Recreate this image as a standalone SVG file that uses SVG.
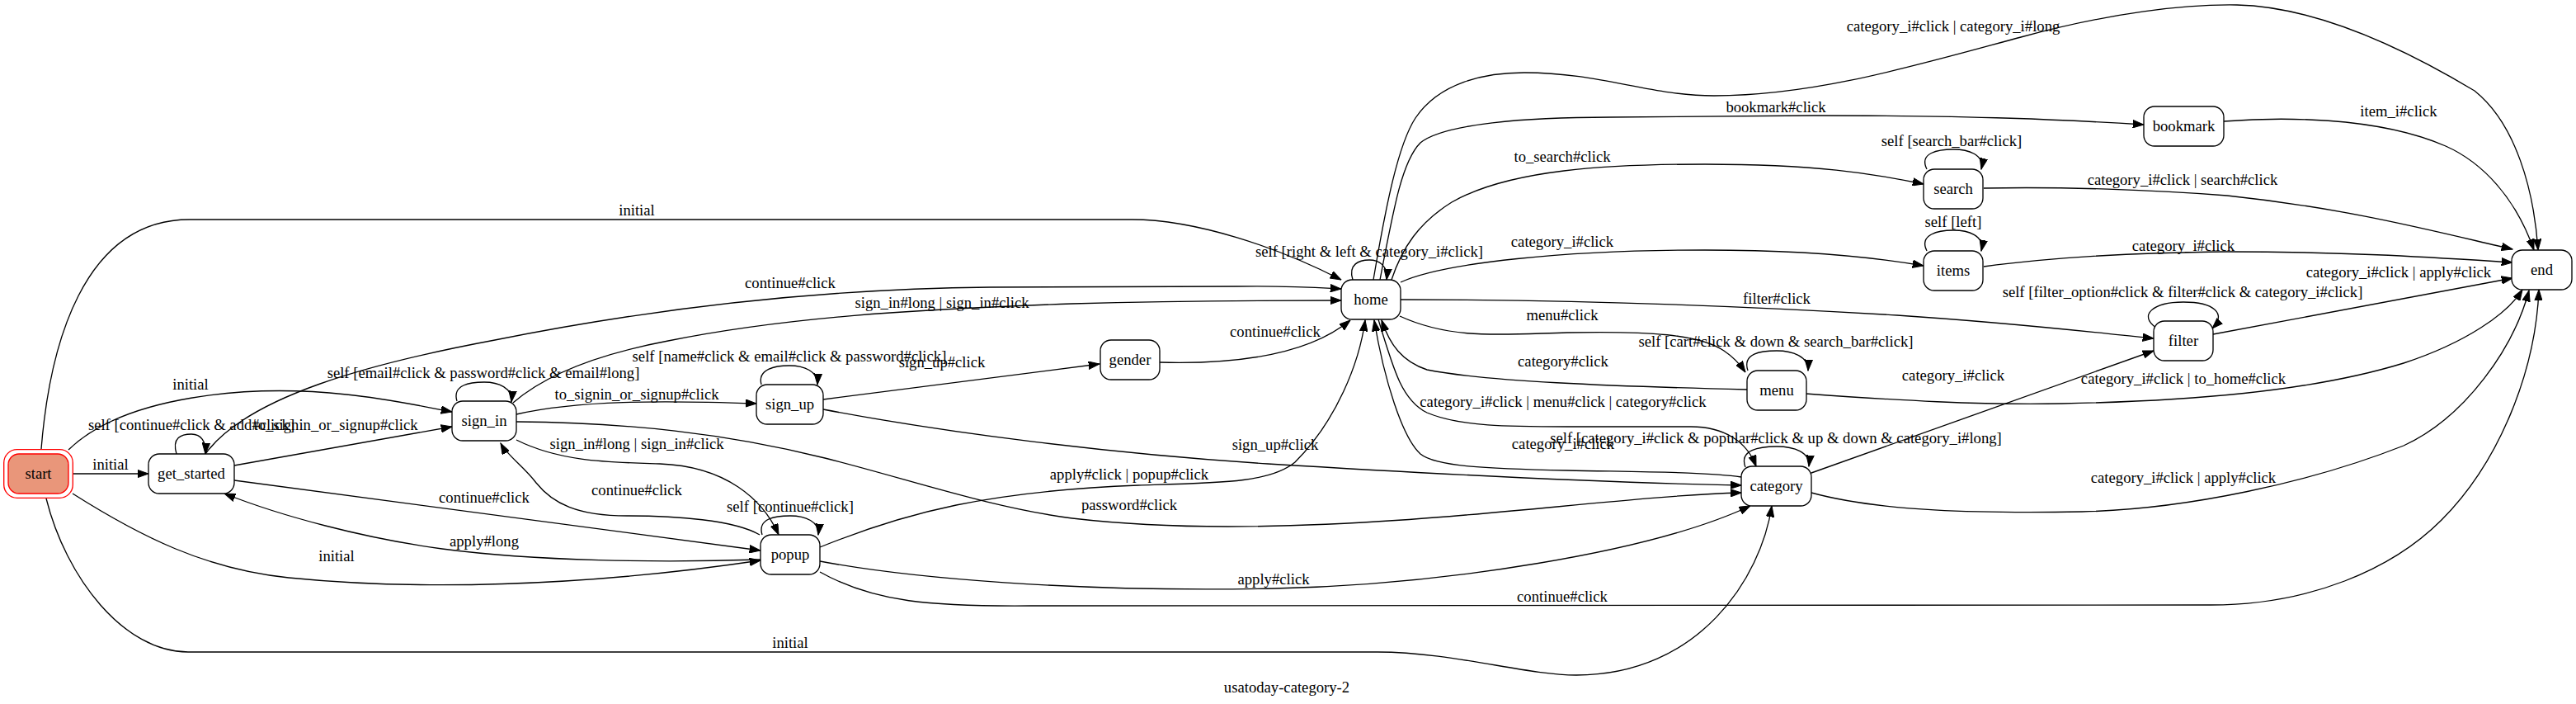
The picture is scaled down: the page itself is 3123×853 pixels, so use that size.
<svg xmlns="http://www.w3.org/2000/svg" width="3123" height="853" viewBox="0 0 3123 853">
<style>
text{font-family:"Liberation Serif","Times New Roman",serif;font-size:18.67px;fill:#000;text-anchor:middle}
.n{fill:#fff;stroke:#000;stroke-width:1.33}
.e{fill:none;stroke:#000;stroke-width:1.33;marker-end:url(#ah)}
</style>
<defs>
<marker id="ah" markerUnits="userSpaceOnUse" markerWidth="14" markerHeight="10" viewBox="0 0 14 10" refX="13.3" refY="5" orient="auto">
<path d="M0,0.3 L13.3,5 L0,9.7 z" fill="#000" stroke="#000" stroke-width="1"/>
</marker>
</defs>
<rect width="3123" height="853" fill="#fff"/>
<g id="connectors">
<g id="e1"><path class="e" d="M88,574 L180,574"/><text x="134" y="569">initial</text></g>
<g id="e2"><path class="e" d="M83,545 C150,480 300,465 420,478 C470,483 510,492 548,499"/><text x="231" y="472">initial</text></g>
<g id="e3"><path class="e" d="M50,544 C60,420 100,266 230,266 L1372,266 C1450,266 1550,300 1626,339"/><text x="772" y="261">initial</text></g>
<g id="e4"><path class="e" d="M88,598 C170,650 250,690 350,700 C500,715 700,712 922,679"/><text x="408" y="680">initial</text></g>
<g id="e5"><path class="e" d="M56,604 C80,700 150,790 228,790 L1670,790 C1760,790 1850,818 1911,818 C2060,818 2135,700 2148,613"/><text x="958" y="785">initial</text></g>
<g id="e6"><path class="e" d="M214,550 C208,530 220,526 232,526 C244,526 250,535 249,550"/><text x="232" y="521">self [continue#click &amp; add#click]</text></g>
<g id="e7"><path class="e" d="M284,564 L548,517"/><text x="407" y="521">to_signin_or_signup#click</text></g>
<g id="e8"><path class="e" d="M249,550 C300,480 450,440 600,412 C800,372 1000,350 1200,348 L1500,347 C1560,346 1590,348 1626,350"/><text x="958" y="349">continue#click</text></g>
<g id="e9"><path class="e" d="M284,582 L922,667"/><text x="587" y="609">continue#click</text></g>
<g id="e10"><path class="e" d="M922,678 C800,682 650,680 536,665 C440,652 340,625 272,598"/><text x="587" y="662">apply#long</text></g>
<g id="e11"><path class="e" d="M554,486 C548,466 570,463 587,463 C604,463 622,470 620,487"/><text x="586" y="458">self [email#click &amp; password#click &amp; email#long]</text></g>
<g id="e12"><path class="e" d="M626,502 C700,485 800,485 917,489"/><text x="772" y="484">to_signin_or_signup#click</text></g>
<g id="e13"><path class="e" d="M622,488 C660,455 720,430 810,413 C950,385 1100,375 1300,368 C1450,364 1550,364 1626,364"/><text x="1142" y="373">sign_in#long | sign_in#click</text></g>
<g id="e14"><path class="e" d="M626,533 C680,560 740,560 800,562 C880,565 925,605 944,648"/><text x="772" y="544">sign_in#long | sign_in#click</text></g>
<g id="e15"><path class="e" d="M921,648 C890,630 820,625 760,625 C700,625 670,610 650,585 C635,565 615,552 607,537"/><text x="772" y="600">continue#click</text></g>
<g id="e16"><path class="e" d="M626,511 C760,512 880,525 1000,555 C1100,580 1200,615 1300,628 C1420,642 1550,640 1700,630 C1850,620 2000,600 2111,597"/><text x="1369" y="618">password#click</text></g>
<g id="e17"><path class="e" d="M923,466 C918,447 940,443 957,443 C975,443 992,450 991,466"/><text x="957" y="438">self [name#click &amp; email#click &amp; password#click]</text></g>
<g id="e18"><path class="e" d="M998,484 L1333,441"/><text x="1142" y="445">sign_up#click</text></g>
<g id="e19"><path class="e" d="M998,496 C1150,525 1350,550 1537,562 C1750,575 1950,585 2111,588"/><text x="1546" y="545">sign_up#click</text></g>
<g id="e20"><path class="e" d="M1406,439 C1480,441 1580,435 1637,388"/><text x="1546" y="408">continue#click</text></g>
<g id="e21"><path class="e" d="M924,648 C918,628 940,625 958,625 C976,625 994,632 992,648"/><text x="958" y="620">self [continue#click]</text></g>
<g id="e22"><path class="e" d="M994,663 C1100,620 1200,595 1380,588 C1480,585 1540,585 1570,560 C1620,510 1648,440 1655,388"/><text x="1369" y="581">apply#click | popup#click</text></g>
<g id="e23"><path class="e" d="M994,680 C1100,700 1300,718 1546,713 C1750,708 2000,670 2122,613"/><text x="1544" y="708">apply#click</text></g>
<g id="e24"><path class="e" d="M994,693 C1060,730 1130,735 1250,734 L2680,733 C2800,733 2900,690 2960,630 C3030,560 3074,450 3078,351"/><text x="1894" y="729">continue#click</text></g>
<g id="e25"><path class="e" d="M1640,339 C1634,320 1648,315 1660,315 C1672,315 1683,322 1681,339"/><text x="1660" y="311">self [right &amp; left &amp; category_i#click]</text></g>
<g id="e26"><path class="e" d="M1665,339 C1680,250 1695,175 1716,143 C1745,100 1800,88 1848,88 C1940,88 2000,116 2078,116 C2200,116 2320,80 2450,45 C2560,15 2650,5 2712,6 C2800,8 2900,50 3000,110 C3050,150 3072,230 3077,303"/><text x="2368" y="38">category_i#click | category_i#long</text></g>
<g id="e27"><path class="e" d="M1673,339 C1690,250 1700,195 1722,173 C1750,150 1850,142 1952,142 L2200,140 C2400,140 2500,145 2599,151"/><text x="2153" y="136">bookmark#click</text></g>
<g id="e28"><path class="e" d="M1687,339 C1700,300 1720,270 1760,245 C1830,205 1950,199 2067,199 C2200,199 2270,210 2332,223"/><text x="1894" y="196">to_search#click</text></g>
<g id="e29"><path class="e" d="M1698,342 C1750,318 1900,303 2067,303 C2200,303 2280,313 2332,322"/><text x="1894" y="299">category_i#click</text></g>
<g id="e30"><path class="e" d="M1698,363 C1900,363 2100,370 2300,382 C2450,392 2530,402 2611,410"/><text x="2154" y="368">filter#click</text></g>
<g id="e31"><path class="e" d="M1697,383 C1760,412 1820,405 1900,403 C2000,401 2060,405 2090,425 C2102,433 2110,442 2116,451"/><text x="1894" y="388">menu#click</text></g>
<g id="e32"><path class="e" d="M2118,472 C1950,468 1800,462 1730,448 C1700,438 1685,418 1675,388"/><text x="1895" y="444">category#click</text></g>
<g id="e33"><path class="e" d="M1671,387 C1690,450 1700,485 1730,500 C1770,517 1830,517 1900,517 L2050,517 C2090,517 2118,535 2129,565"/><text x="1895" y="493">category_i#click | menu#click | category#click</text></g>
<g id="e34"><path class="e" d="M2111,578 C2070,572 2000,572 1900,570 C1800,568 1740,565 1722,550 C1700,530 1678,460 1666,388"/><text x="1895" y="544">category_i#click</text></g>
<g id="e35"><path class="e" d="M2696,147 C2760,142 2880,140 2965,177 C3010,197 3050,240 3072,303"/><text x="2908" y="141">item_i#click</text></g>
<g id="e36"><path class="e" d="M2336,205 C2326,185 2350,181 2368,181 C2386,181 2406,187 2402,205"/><text x="2366" y="177">self [search_bar#click]</text></g>
<g id="e37"><path class="e" d="M2405,228 C2500,226 2612,230 2700,237 C2850,253 2950,280 3046,302"/><text x="2646" y="224">category_i#click | search#click</text></g>
<g id="e38"><path class="e" d="M2336,304 C2326,284 2350,279 2368,279 C2386,279 2406,285 2402,304"/><text x="2368" y="275">self [left]</text></g>
<g id="e39"><path class="e" d="M2405,323 C2500,310 2600,306 2700,305 C2850,305 2950,312 3046,318"/><text x="2647" y="304">category_i#click</text></g>
<g id="e40"><path class="e" d="M2614,397 C2592,382 2610,366 2647,366 C2684,366 2700,380 2682,398"/><text x="2646" y="360">self [filter_option#click &amp; filter#click &amp; category_i#click]</text></g>
<g id="e41"><path class="e" d="M2683,405 L3046,337"/><text x="2908" y="336">category_i#click | apply#click</text></g>
<g id="e42"><path class="e" d="M2119,449 C2112,428 2135,425 2154,425 C2173,425 2193,432 2192,449"/><text x="2153" y="420">self [cart#click &amp; down &amp; search_bar#click]</text></g>
<g id="e43"><path class="e" d="M2189,477 C2300,485 2400,491 2500,489 C2650,486 2800,475 2914,440 C2990,415 3040,380 3058,351"/><text x="2647" y="465">category_i#click | to_home#click</text></g>
<g id="e44"><path class="e" d="M2116,566 C2108,545 2133,541 2154,541 C2175,541 2195,548 2193,565"/><text x="2153" y="537">self [category_i#click &amp; popular#click &amp; up &amp; down &amp; category_i#long]</text></g>
<g id="e45"><path class="e" d="M2196,573 L2611,425"/><text x="2368" y="461">category_i#click</text></g>
<g id="e46"><path class="e" d="M2196,597 C2280,620 2400,622 2524,620 C2650,617 2800,585 2914,540 C2990,505 3048,420 3066,352"/><text x="2647" y="585">category_i#click | apply#click</text></g>
</g>
<g id="start">
<rect x="4.7" y="544.7" width="83.6" height="58.6" rx="16" fill="none" stroke="#ff0000" stroke-width="1.33"/>
<rect x="10" y="550" width="73" height="48" rx="13" fill="#e9967a" stroke="#ff0000" stroke-width="1.33"/>
<text x="46.5" y="580">start</text>
</g>
<g id="get_started"><rect class="n" x="180" y="550" width="104" height="48" rx="13"/><text x="232" y="580">get_started</text></g>
<g id="sign_in"><rect class="n" x="548" y="486" width="78" height="48" rx="13"/><text x="587" y="516">sign_in</text></g>
<g id="sign_up"><rect class="n" x="917" y="466" width="81" height="48" rx="13"/><text x="957.5" y="496">sign_up</text></g>
<g id="gender"><rect class="n" x="1334" y="412" width="72" height="48" rx="13"/><text x="1370" y="442">gender</text></g>
<g id="popup"><rect class="n" x="922" y="648" width="72" height="48" rx="13"/><text x="958" y="678">popup</text></g>
<g id="home"><rect class="n" x="1626" y="339" width="72" height="48" rx="13"/><text x="1662" y="369">home</text></g>
<g id="bookmark"><rect class="n" x="2599" y="129" width="97" height="48" rx="13"/><text x="2647.5" y="159">bookmark</text></g>
<g id="search"><rect class="n" x="2332" y="205" width="72" height="48" rx="13"/><text x="2368" y="235">search</text></g>
<g id="items"><rect class="n" x="2332" y="304" width="72" height="48" rx="13"/><text x="2368" y="334">items</text></g>
<g id="filter"><rect class="n" x="2611" y="389" width="72" height="48" rx="13"/><text x="2647" y="419">filter</text></g>
<g id="menu"><rect class="n" x="2118" y="449" width="72" height="48" rx="13"/><text x="2154" y="479">menu</text></g>
<g id="category"><rect class="n" x="2111" y="565" width="85" height="48" rx="13"/><text x="2153.5" y="595">category</text></g>
<g id="end"><rect class="n" x="3045" y="303" width="73" height="48" rx="13"/><text x="3081.5" y="333">end</text></g>
<text id="title" x="1560" y="839">usatoday-category-2</text>
</svg>
